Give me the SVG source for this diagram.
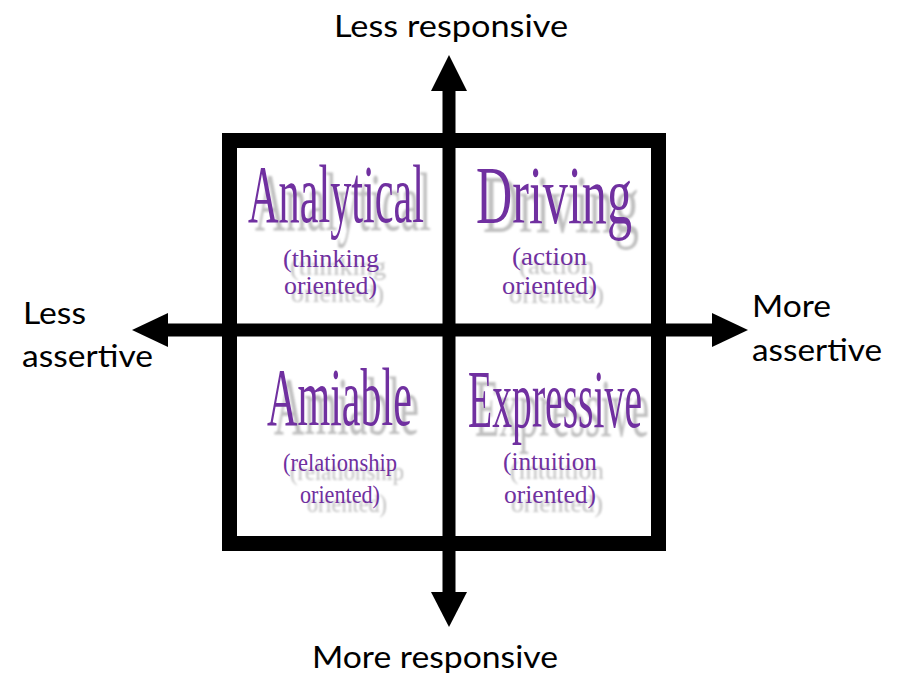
<svg xmlns="http://www.w3.org/2000/svg" xmlns:xlink="http://www.w3.org/1999/xlink" width="899" height="677" viewBox="0 0 899 677">
  <style>
    .axis-label { font-family: "Lato", "Open Sans", "Liberation Sans", sans-serif; font-size: 30px; fill: #000; }
    .title { font-family: "Liberation Serif", "Times New Roman", serif; font-size: 82px; fill: #7030A0; }
    .sub { font-family: "Liberation Serif", "Times New Roman", serif; font-size: 25px; fill: #7030A0; }
    .shadow .title, .shadow .sub { fill: #c0c0c0; }
    .shaft { stroke: #000; stroke-width: 13; fill: none; }
    .head { fill: #000; }
  </style>
  <defs>
    <filter id="soft" x="-5%" y="-20%" width="110%" height="140%">
      <feGaussianBlur stdDeviation="0.8"/>
    </filter>
  </defs>

  <rect width="899" height="677" fill="#fff"/>

  <!-- quadrant frame -->
  <rect x="229.5" y="140.5" width="429" height="403" fill="#fff" stroke="#000" stroke-width="15"/>

  <!-- axes -->
  <g id="connectors">
    <line class="shaft" x1="449" y1="88" x2="449" y2="596"/>
    <polygon class="head" points="449,55 467,91 431,91"/>
    <polygon class="head" points="449,627 467,592 431,592"/>
    <line class="shaft" x1="165" y1="330" x2="715" y2="330" stroke-width="14"/>
    <polygon class="head" points="132,330 168,313 168,347"/>
    <polygon class="head" points="748,330 712,313 712,347"/>
  </g>

  <!-- axis labels -->
  <g id="label-top"><text class="axis-label" x="334" y="37" textLength="234" lengthAdjust="spacingAndGlyphs">Less responsive</text></g>
  <g id="label-bottom"><text class="axis-label" x="312" y="668" textLength="246" lengthAdjust="spacingAndGlyphs">More responsive</text></g>
  <g id="label-left">
    <text class="axis-label" x="23" y="324" textLength="63" lengthAdjust="spacingAndGlyphs">Less</text>
    <text class="axis-label" x="22" y="367" textLength="131" lengthAdjust="spacingAndGlyphs">assertive</text>
  </g>
  <g id="label-right">
    <text class="axis-label" x="752" y="317" textLength="79" lengthAdjust="spacingAndGlyphs">More</text>
    <text class="axis-label" x="752" y="361" textLength="130" lengthAdjust="spacingAndGlyphs">assertive</text>
  </g>

  <!-- Analytical -->
  <g id="analytical">
    <g class="shadow" filter="url(#soft)" transform="translate(7,8)">
      <text class="title" x="248" y="222" textLength="176" lengthAdjust="spacingAndGlyphs">Analytical</text>
      <text class="sub" x="283" y="267" textLength="96" lengthAdjust="spacingAndGlyphs">(thinking</text>
      <text class="sub" x="284" y="294" textLength="93" lengthAdjust="spacingAndGlyphs">oriented)</text>
    </g>
    <text class="title" x="248" y="222" textLength="176" lengthAdjust="spacingAndGlyphs">Analytical</text>
    <text class="sub" x="283" y="267" textLength="96" lengthAdjust="spacingAndGlyphs">(thinking</text>
    <text class="sub" x="284" y="294" textLength="93" lengthAdjust="spacingAndGlyphs">oriented)</text>
  </g>

  <!-- Driving -->
  <g id="driving">
    <g class="shadow" filter="url(#soft)" transform="translate(7,9)">
      <text class="title" x="476" y="223" textLength="156" lengthAdjust="spacingAndGlyphs">Driving</text>
      <text class="sub" x="512" y="265" textLength="75" lengthAdjust="spacingAndGlyphs">(action</text>
      <text class="sub" x="502" y="294" textLength="95" lengthAdjust="spacingAndGlyphs">oriented)</text>
    </g>
    <text class="title" x="476" y="223" textLength="156" lengthAdjust="spacingAndGlyphs">Driving</text>
    <text class="sub" x="512" y="265" textLength="75" lengthAdjust="spacingAndGlyphs">(action</text>
    <text class="sub" x="502" y="294" textLength="95" lengthAdjust="spacingAndGlyphs">oriented)</text>
  </g>

  <!-- Amiable -->
  <g id="amiable">
    <g class="shadow" filter="url(#soft)" transform="translate(7,9)">
      <text class="title" x="267" y="425" textLength="145" lengthAdjust="spacingAndGlyphs">Amiable</text>
      <text class="sub" x="283" y="471" textLength="114" lengthAdjust="spacingAndGlyphs">(relationship</text>
      <text class="sub" x="300" y="503" textLength="80" lengthAdjust="spacingAndGlyphs">oriented)</text>
    </g>
    <text class="title" x="267" y="425" textLength="145" lengthAdjust="spacingAndGlyphs">Amiable</text>
    <text class="sub" x="283" y="471" textLength="114" lengthAdjust="spacingAndGlyphs">(relationship</text>
    <text class="sub" x="300" y="503" textLength="80" lengthAdjust="spacingAndGlyphs">oriented)</text>
  </g>

  <!-- Expressive -->
  <g id="expressive">
    <g class="shadow" filter="url(#soft)" transform="translate(7,9)">
      <text class="title" x="468" y="427" textLength="174" lengthAdjust="spacingAndGlyphs">Expressive</text>
      <text class="sub" x="503" y="470" textLength="94" lengthAdjust="spacingAndGlyphs">(intuition</text>
      <text class="sub" x="504" y="503" textLength="92" lengthAdjust="spacingAndGlyphs">oriented)</text>
    </g>
    <text class="title" x="468" y="427" textLength="174" lengthAdjust="spacingAndGlyphs">Expressive</text>
    <text class="sub" x="503" y="470" textLength="94" lengthAdjust="spacingAndGlyphs">(intuition</text>
    <text class="sub" x="504" y="503" textLength="92" lengthAdjust="spacingAndGlyphs">oriented)</text>
  </g>
</svg>
